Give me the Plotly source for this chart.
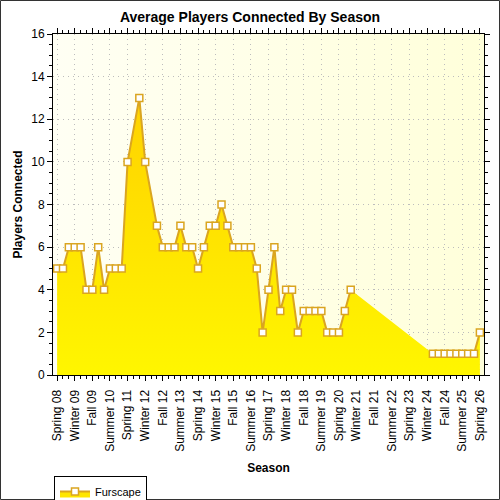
import base64
import plotly.graph_objects as go

seasons = [
    "Spring 08", "Summer 08", "Fall 08", "Winter 09",
    "Spring 09", "Summer 09", "Fall 09", "Winter 10",
    "Spring 10", "Summer 10", "Fall 10", "Winter 11",
    "Spring 11", "Summer 11", "Fall 11", "Winter 12",
    "Spring 12", "Summer 12", "Fall 12", "Winter 13",
    "Spring 13", "Summer 13", "Fall 13", "Winter 14",
    "Spring 14", "Summer 14", "Fall 14", "Winter 15",
    "Spring 15", "Summer 15", "Fall 15", "Winter 16",
    "Spring 16", "Summer 16", "Fall 16", "Winter 17",
    "Spring 17", "Summer 17", "Fall 17", "Winter 18",
    "Spring 18", "Summer 18", "Fall 18", "Winter 19",
    "Spring 19", "Summer 19", "Fall 19", "Winter 20",
    "Spring 20", "Summer 20", "Fall 20", "Winter 21",
    "Spring 21", "Summer 21", "Fall 21", "Winter 22",
    "Spring 22", "Summer 22", "Fall 22", "Winter 23",
    "Spring 23", "Summer 23", "Fall 23", "Winter 24",
    "Spring 24", "Summer 24", "Fall 24", "Winter 25",
    "Spring 25", "Summer 25", "Fall 25", "Winter 26",
    "Spring 26",
]

players = [
    5, 5, 6, 6,
    6, 4, 4, 6,
    4, 5, 5, 5,
    10, None, 13, 10,
    None, 7, 6, 6,
    6, 7, 6, 6,
    5, 6, 7, 7,
    8, 7, 6, 6,
    6, 6, 5, 2,
    4, 6, 3, 4,
    4, 2, 3, 3,
    3, 3, 2, 2,
    2, 3, 4, None,
    None, None, None, None,
    None, None, None, None,
    None, None, None, None,
    1, 1, 1, 1,
    1, 1, 1, 1,
    2,
]

series_name = "Furscape"
title_text = "Average Players Connected By Season"
x_title = "Season"
y_title = "Players Connected"

FONT = "Liberation Sans, Arial, sans-serif"
GOLD = "#DAA520"

pos = list(range(len(seasons)))

# area: skip missing points (area is continuous)
area_x = [p for p, v in zip(pos, players) if v is not None]
area_y = [v for v in players if v is not None]

# line: break only over runs of more than one missing season
line_x, line_y = [], []
i = 0
n = len(players)
while i < n:
    if players[i] is None:
        j = i
        while j < n and players[j] is None:
            j += 1
        if j - i > 1:
            line_x.append(None)
            line_y.append(None)
        i = j
    else:
        line_x.append(pos[i])
        line_y.append(players[i])
        i += 1

fig = go.Figure()

fig.add_trace(go.Scatter(
    x=area_x, y=area_y, mode="lines", fill="tozeroy",
    line=dict(width=0, color="rgba(0,0,0,0)"),
    fillgradient=dict(type="vertical", start=0, stop=13,
                      colorscale=[[0, "#FFF600"], [0.35, "#FFE900"],
                                  [1, "#FFD200"]]),
    showlegend=False, hoverinfo="skip",
))

fig.add_trace(go.Scatter(
    x=line_x, y=line_y, mode="lines+markers", connectgaps=False,
    line=dict(color=GOLD, width=2),
    marker=dict(symbol="square", size=7, color="white",
                line=dict(color=GOLD, width=1.5)),
    showlegend=False,
))

fig.add_trace(go.Scatter(
    x=[None], y=[None], mode="lines+markers", fill="tozeroy",
    fillcolor="#FFE600", name=series_name,
    line=dict(color=GOLD, width=2),
    marker=dict(symbol="square", size=7, color="white",
                line=dict(color=GOLD, width=1.5)),
))

svg = ('<svg xmlns="http://www.w3.org/2000/svg" width="100" height="100" '
       'preserveAspectRatio="none"><defs><linearGradient id="g" x1="0" y1="0" '
       'x2="1" y2="0"><stop offset="0" stop-color="#FFFFF4"/>'
       '<stop offset="1" stop-color="#FFFFDA"/></linearGradient></defs>'
       '<rect width="100" height="100" fill="url(#g)"/></svg>')
bg_src = "data:image/svg+xml;base64," + base64.b64encode(svg.encode()).decode()

L, R, T, B = 53, 16, 34, 125
PW, PH = 500 - L - R, 500 - T - B

def px(xp):
    return (xp - L) / PW

def py(yp):
    return (500 - B - yp) / PH

fig.update_layout(
    width=500, height=500,
    margin=dict(l=L, r=R, t=T, b=B, autoexpand=False),
    paper_bgcolor="white",
    plot_bgcolor="rgba(0,0,0,0)",
    font=dict(family=FONT, size=12, color="black"),
    title=dict(text=f"<b>{title_text}</b>", x=0.5, xref="container",
               y=1 - 17.5 / 500, yref="container", yanchor="middle",
               xanchor="center", font=dict(size=14, color="black")),
    images=[dict(source=bg_src, xref="paper", yref="paper", x=0, y=1,
                 sizex=1, sizey=1, xanchor="left", yanchor="top",
                 sizing="stretch", layer="below")],
    showlegend=True,
    legend=dict(x=px(54), y=py(476), xanchor="left", yanchor="top",
                orientation="h", bgcolor="white", bordercolor="black",
                borderwidth=1, font=dict(size=11), itemwidth=30,
                tracegroupgap=0),
    shapes=[dict(type="rect", xref="paper", yref="paper",
                 x0=px(0.5), x1=px(499.5), y0=py(499.5), y1=py(0.5),
                 line=dict(color="#333333", width=1), layer="above")],
)

fig.update_xaxes(
    range=[-0.7, 72.7], tickmode="array",
    tickvals=pos[::3], ticktext=seasons[::3], tickangle=-90,
    ticks="outside", ticklen=5, tickcolor="black",
    minor=dict(dtick=1, tick0=0, ticks="outside", ticklen=3,
               tickcolor="black", showgrid=False),
    showline=True, linecolor="black", linewidth=1, mirror="ticks",
    showgrid=True, gridcolor="#BDBDBD", griddash="1px,4px", gridwidth=1,
    zeroline=False, tickfont=dict(size=12, color="black"),
    ticklabelstandoff=4,
    title=dict(text=f"<b>{x_title}</b>", font=dict(size=12), standoff=12),
)

fig.update_yaxes(
    range=[0, 16], dtick=2, tick0=0,
    ticks="outside", ticklen=5, tickcolor="black",
    minor=dict(dtick=0.5, ticks="outside", ticklen=3,
               tickcolor="black", showgrid=False),
    showline=True, linecolor="black", linewidth=1, mirror="ticks",
    showgrid=True, gridcolor="#BDBDBD", griddash="1px,4px", gridwidth=1,
    zeroline=False, tickfont=dict(size=12, color="black"),
    title=dict(text=f"<b>{y_title}</b>", font=dict(size=12), standoff=6),
)

fig.write_html(
    "out.html",
    config={"displayModeBar": False},
    post_script="document.body.style.margin='0';"
                "document.body.style.overflow='hidden';",
)
